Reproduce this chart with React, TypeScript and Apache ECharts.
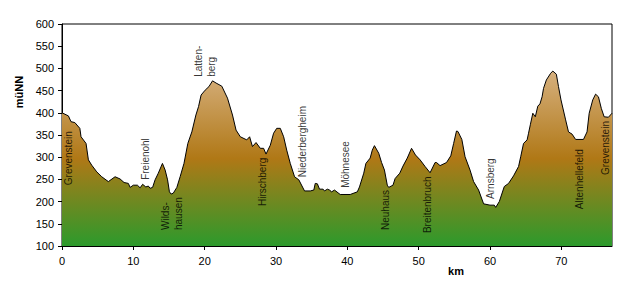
import React, { useEffect, useRef } from "react";
import * as echarts from "echarts";

const kmValues = [0, 0.9, 1.26, 1.8, 2.5, 2.67, 3.37, 3.7, 4.17, 4.87, 5.57, 6.5, 7.44, 8.14, 8.7, 9.3, 9.55, 10.0, 10.57, 10.95, 11.3, 11.75, 12.1, 12.35, 12.7, 13.05, 13.5, 14.08, 14.46, 14.8, 15.06, 15.3, 15.6, 16.1, 16.56, 17.1, 17.64, 18.2, 18.77, 19.14, 19.5, 20.07, 20.6, 21.1, 21.6, 22.4, 23.2, 23.9, 24.4, 25.0, 25.9, 26.3, 26.7, 27.2, 27.8, 28.26, 28.6, 29.2, 29.66, 30.1, 30.6, 31.07, 31.5, 32.0, 32.6, 33.2, 34.0, 34.8, 35.3, 35.5, 35.8, 36.1, 36.6, 36.8, 37.2, 37.5, 37.8, 38.2, 39.0, 40.4, 41.4, 41.7, 42.3, 42.6, 43.2, 43.5, 43.8, 44.4, 44.8, 45.2, 45.6, 45.8, 46.4, 46.7, 47.35, 47.8, 48.4, 49.0, 49.55, 50.2, 50.9, 51.6, 52.3, 52.5, 53.0, 53.9, 54.5, 54.9, 55.3, 55.5, 56.05, 56.5, 57.2, 57.7, 58.4, 59.1, 60.0, 60.6, 60.8, 61.3, 62.0, 62.6, 63.3, 64.0, 64.3, 64.7, 65.2, 65.4, 65.65, 66.0, 66.35, 66.7, 67.0, 67.3, 67.5, 67.9, 68.5, 68.8, 69.3, 69.6, 69.95, 70.6, 71.0, 71.5, 72.0, 73.1, 73.6, 73.9, 74.4, 74.8, 75.2, 75.6, 76.0, 76.6, 77.1];

const elevation = [400, 393, 380, 378, 365, 346, 331, 294, 282, 267, 256, 245, 256, 251, 243, 241, 232, 237, 237, 231, 239, 233, 235, 230, 232, 249, 264, 286, 271, 249, 222, 217, 219, 232, 256, 286, 331, 357, 395, 414, 440, 451, 459, 472, 467, 460, 433, 395, 361, 346, 339, 346, 324, 333, 320, 320, 307, 327, 354, 365, 365, 346, 316, 286, 256, 249, 224, 224, 226, 241, 240, 228, 228, 224, 228, 226, 222, 226, 216, 216, 222, 233, 264, 286, 298, 316, 326, 309, 288, 271, 237, 232, 237, 252, 264, 280, 298, 320, 305, 294, 279, 265, 288, 288, 281, 288, 303, 331, 359, 358, 340, 301, 271, 245, 226, 195, 192, 192, 187, 200, 234, 241, 258, 279, 301, 331, 339, 354, 373, 399, 391, 415, 420, 436, 455, 474, 489, 494, 487, 459, 429, 384, 357, 352, 340, 340, 357, 399, 429, 442, 436, 410, 391, 390, 399];

const placeNames = ["Grevenstein", "Freienohl", "Wilds-\nhausen", "Latten-\nberg", "Hirschberg", "Niederbergheim", "Möhnesee", "Neuhaus", "Breitenbruch", "Arnsberg", "Altenhellefeld", "Grevenstein"];
const placeKm = [0.94, 11.7, 15.4, 20.1, 28.1, 33.7, 39.7, 45.4, 51.3, 60.0, 72.6, 76.2];
const placeLabelBase = [237, 249, 136, 481, 190, 255, 231, 136, 129, 206, 183, 260];

const xTicks = [0, 10, 20, 30, 40, 50, 60, 70];
const xMax = 77.1;
const yMin = 100;
const yMax = 600;
const yStep = 50;

const FONT = 'Arial, "Liberation Sans", sans-serif';

export default function App() {
  const ref = useRef<HTMLDivElement>(null);
  useEffect(() => {
    if (!ref.current) return;
    const chart = echarts.init(ref.current, null, { renderer: "svg" });
    const profile = kmValues.map((k, i) => [k, elevation[i]]);
    const places = placeNames.map((n, i) => ({ value: [placeKm[i], placeLabelBase[i]], name: n }));
    chart.setOption({
      animation: false,
      backgroundColor: "#ffffff",
      grid: {
        left: 62,
        right: 21,
        top: 24,
        bottom: 41,
        show: true,
        borderColor: "#000",
        borderWidth: 1,
        backgroundColor: "transparent",
        outerBoundsMode: "none",
      },
      xAxis: {
        type: "value",
        min: 0,
        max: xMax,
        interval: 10,
        axisLine: { show: true, lineStyle: { color: "#000", width: 1 } },
        axisTick: { show: true, length: 4, lineStyle: { color: "#000" }, customValues: xTicks },
        axisLabel: { color: "#000", fontSize: 11, fontFamily: FONT, margin: 9, customValues: xTicks },
        splitLine: { show: false },
      },
      yAxis: {
        type: "value",
        min: yMin,
        max: yMax,
        interval: yStep,
        axisLine: { show: true, lineStyle: { color: "#000", width: 1 } },
        axisTick: { show: true, length: 4, lineStyle: { color: "#000" } },
        axisLabel: { color: "#000", fontSize: 11, fontFamily: FONT, margin: 8 },
        splitLine: { show: false },
      },
      graphic: [
        {
          type: "text",
          x: 19,
          y: 92,
          rotation: Math.PI / 2,
          style: {
            text: "müNN",
            fill: "#000",
            font: `bold 11px ${FONT}`,
            align: "center",
            verticalAlign: "middle",
          },
        },
        {
          type: "text",
          x: 456,
          y: 271,
          style: {
            text: "km",
            fill: "#000",
            font: `bold 11px ${FONT}`,
            align: "center",
            verticalAlign: "middle",
          },
        },
      ],
      series: [
        {
          type: "line",
          data: profile,
          showSymbol: false,
          symbol: "none",
          smooth: false,
          lineStyle: { color: "#000", width: 1 },
          areaStyle: {
            origin: "start",
            opacity: 1,
            color: new echarts.graphic.LinearGradient(0, 0, 0, 1, [
              { offset: 0, color: "#d6b07e" },
              { offset: 0.5, color: "#b07816" },
              { offset: 1, color: "#2c9a2c" },
            ]),
          },
          silent: true,
          z: 2,
        },
        {
          type: "scatter",
          data: places,
          symbolSize: 0,
          silent: true,
          z: 5,
          label: {
            show: true,
            formatter: (p: any) => p.name,
            position: "inside",
            rotate: 90,
            align: "left",
            verticalAlign: "middle",
            color: "#000",
            fontSize: 10,
            fontFamily: FONT,
            lineHeight: 13,
          },
        },
      ],
    });
    return () => chart.dispose();
  }, []);
  return <div ref={ref} style={{ position: "fixed", left: 0, top: 0, width: 633, height: 287 }} />;
}
